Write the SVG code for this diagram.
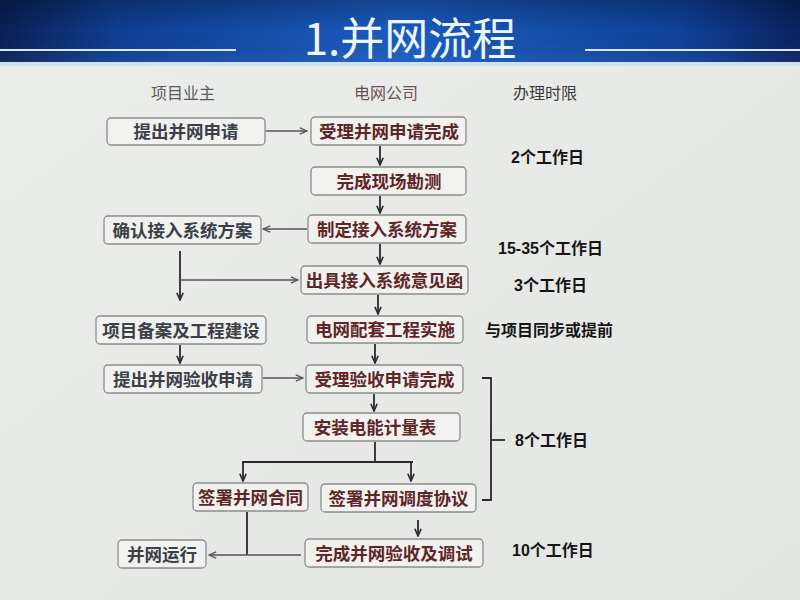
<svg xmlns="http://www.w3.org/2000/svg" width="800" height="600" viewBox="0 0 800 600">
<defs>
<linearGradient id="hdr" x1="0" y1="0" x2="1" y2="0">
<stop offset="0" stop-color="#0a1f55"/>
<stop offset="0.15" stop-color="#0f3f94"/>
<stop offset="0.5" stop-color="#1a5cc0"/>
<stop offset="0.85" stop-color="#0f4299"/>
<stop offset="1" stop-color="#0a2260"/>
</linearGradient>
<linearGradient id="hdrv" x1="0" y1="0" x2="0" y2="1">
<stop offset="0" stop-color="#000" stop-opacity="0.25"/>
<stop offset="0.5" stop-color="#000" stop-opacity="0"/>
<stop offset="1" stop-color="#fff" stop-opacity="0.05"/>
</linearGradient>
<linearGradient id="bg" x1="0" y1="0" x2="1" y2="1">
<stop offset="0" stop-color="#eceeec"/>
<stop offset="1" stop-color="#e3e5e3"/>
</linearGradient>
<marker id="ah" viewBox="0 0 10 10" refX="9" refY="5" markerWidth="9" markerHeight="9" markerUnits="userSpaceOnUse" orient="auto">
<path d="M1,1.5 L9,5 L1,8.5" fill="none" stroke="#2a2a2a" stroke-width="1.8"/>
</marker>
<marker id="ahg" viewBox="0 0 10 10" refX="9" refY="5" markerWidth="9" markerHeight="9" markerUnits="userSpaceOnUse" orient="auto">
<path d="M1,1.5 L9,5 L1,8.5" fill="none" stroke="#555" stroke-width="1.5"/>
</marker>
</defs>
<style>
.box{fill:#f1f1ef;stroke:#8c8c8c;stroke-width:1.3}
.t{font-family:"Noto Sans CJK SC","Noto Sans",sans-serif;font-size:17.5px;font-weight:bold;text-anchor:middle}
.own{fill:#3a3f48}
.grid{fill:#5e2626}
.col{font-family:"Noto Sans CJK SC",sans-serif;font-size:16px;text-anchor:middle}
.tm{font-family:"Liberation Sans","Noto Sans CJK SC",sans-serif;font-size:16px;font-weight:bold;fill:#151515}
.c{fill:none;stroke:#2a2a2a;stroke-width:1.8}
.cg{fill:none;stroke:#555;stroke-width:1.5}
</style>
<rect x="0" y="0" width="800" height="600" fill="url(#bg)"/>
<g id="header">
<rect x="0" y="0" width="800" height="63" fill="url(#hdr)"/>
<rect x="0" y="0" width="800" height="63" fill="url(#hdrv)"/>
<rect x="0" y="62" width="800" height="4" fill="#cfe3ee"/>
<line x1="0" y1="50" x2="236" y2="50" stroke="#d6ebff" stroke-width="2"/>
<line x1="585" y1="50" x2="800" y2="50" stroke="#d6ebff" stroke-width="2"/>
<text x="410" y="55" font-family="'Noto Sans CJK SC','Noto Sans',sans-serif" font-size="44" fill="#eef7ff" text-anchor="middle">1.并网流程</text>
</g>
<g id="column-headers">
<text class="col" x="183" y="99" fill="#5a5a5a">项目业主</text>
<text class="col" x="386" y="99" fill="#6a5050">电网公司</text>
<text class="col" x="545" y="99" fill="#3a3a3a">办理时限</text>
</g>
<g id="connectors">
<line class="cg" x1="266" y1="131" x2="307" y2="131" marker-end="url(#ahg)"/>
<line class="c" x1="380" y1="146" x2="380" y2="165" marker-end="url(#ah)"/>
<line class="c" x1="380" y1="196" x2="380" y2="213" marker-end="url(#ah)"/>
<line class="cg" x1="307" y1="229" x2="263" y2="229" marker-end="url(#ahg)"/>
<line class="c" x1="380" y1="244" x2="380" y2="264" marker-end="url(#ah)"/>
<line class="c" x1="180" y1="251" x2="180" y2="300" marker-end="url(#ah)"/>
<line class="cg" x1="180" y1="280" x2="298" y2="280" marker-end="url(#ahg)"/>
<line class="c" x1="378" y1="295" x2="378" y2="314" marker-end="url(#ah)"/>
<line class="c" x1="180" y1="345" x2="180" y2="363" marker-end="url(#ah)"/>
<line class="c" x1="375" y1="344" x2="375" y2="363" marker-end="url(#ah)"/>
<line class="cg" x1="263" y1="378" x2="303" y2="378" marker-end="url(#ahg)"/>
<line class="c" x1="374" y1="394" x2="374" y2="411" marker-end="url(#ah)"/>
<polyline class="c" points="375,442 375,462"/>
<line class="c" x1="242" y1="462" x2="413" y2="462"/>
<line class="c" x1="243" y1="462" x2="243" y2="481" marker-end="url(#ah)"/>
<line class="c" x1="411" y1="462" x2="411" y2="481" marker-end="url(#ah)"/>
<line class="c" x1="418" y1="520" x2="418" y2="536" marker-end="url(#ah)"/>
<line class="c" x1="247" y1="512" x2="247" y2="555"/>
<line class="cg" x1="301" y1="555" x2="209" y2="555" marker-end="url(#ahg)"/>
</g>
<g id="bracket">
<polyline class="c" points="482,378 491,378 491,500 482,500"/>
<line class="c" x1="491" y1="440" x2="505" y2="440"/>
</g>
<g id="n1"><rect class="box" x="107" y="118" width="158" height="27" rx="4"/><text class="t own" x="186" y="138">提出并网申请</text></g>
<g id="n2"><rect class="box" x="311" y="117" width="155" height="28" rx="4"/><text class="t grid" x="389" y="137.5">受理并网申请完成</text></g>
<g id="n3"><rect class="box" x="311" y="167" width="155" height="28" rx="4"/><text class="t grid" x="389" y="187.5">完成现场勘测</text></g>
<g id="n4"><rect class="box" x="104" y="216" width="157" height="28" rx="4"/><text class="t own" x="182.5" y="236.5">确认接入系统方案</text></g>
<g id="n5"><rect class="box" x="308" y="215" width="158" height="28" rx="4"/><text class="t grid" x="387" y="235.5">制定接入系统方案</text></g>
<g id="n6"><rect class="box" x="301" y="266" width="167" height="28" rx="4"/><text class="t grid" x="384.5" y="286.5">出具接入系统意见函</text></g>
<g id="n7"><rect class="box" x="96" y="316" width="170" height="28" rx="4"/><text class="t own" x="181" y="336.5">项目备案及工程建设</text></g>
<g id="n8"><rect class="box" x="307" y="316" width="156" height="27" rx="4"/><text class="t grid" x="385" y="336">电网配套工程实施</text></g>
<g id="n9"><rect class="box" x="104" y="365" width="158" height="28" rx="4"/><text class="t own" x="183" y="385.5">提出并网验收申请</text></g>
<g id="n10"><rect class="box" x="306" y="365" width="157" height="28" rx="4"/><text class="t grid" x="384.5" y="385.5">受理验收申请完成</text></g>
<g id="n11"><rect class="box" x="303" y="413" width="157" height="28" rx="4"/><text class="t grid" x="375" y="433.5">安装电能计量表</text></g>
<g id="n12"><rect class="box" x="193" y="483" width="115" height="28" rx="4"/><text class="t grid" x="250.5" y="503.5">签署并网合同</text></g>
<g id="n13"><rect class="box" x="321" y="484" width="155" height="28" rx="4"/><text class="t grid" x="398.5" y="504.5">签署并网调度协议</text></g>
<g id="n14"><rect class="box" x="118" y="540" width="88" height="28" rx="4"/><text class="t own" x="162" y="560.5">并网运行</text></g>
<g id="n15"><rect class="box" x="305" y="539" width="178" height="28" rx="4"/><text class="t grid" x="394" y="559.5">完成并网验收及调试</text></g>
<g id="time-labels">
<text class="tm" x="511" y="163">2个工作日</text>
<text class="tm" x="498" y="254">15-35个工作日</text>
<text class="tm" x="514" y="291">3个工作日</text>
<text class="tm" x="485" y="336" font-size="17">与项目同步或提前</text>
<text class="tm" x="515" y="446">8个工作日</text>
<text class="tm" x="512" y="556">10个工作日</text>
</g>
</svg>
